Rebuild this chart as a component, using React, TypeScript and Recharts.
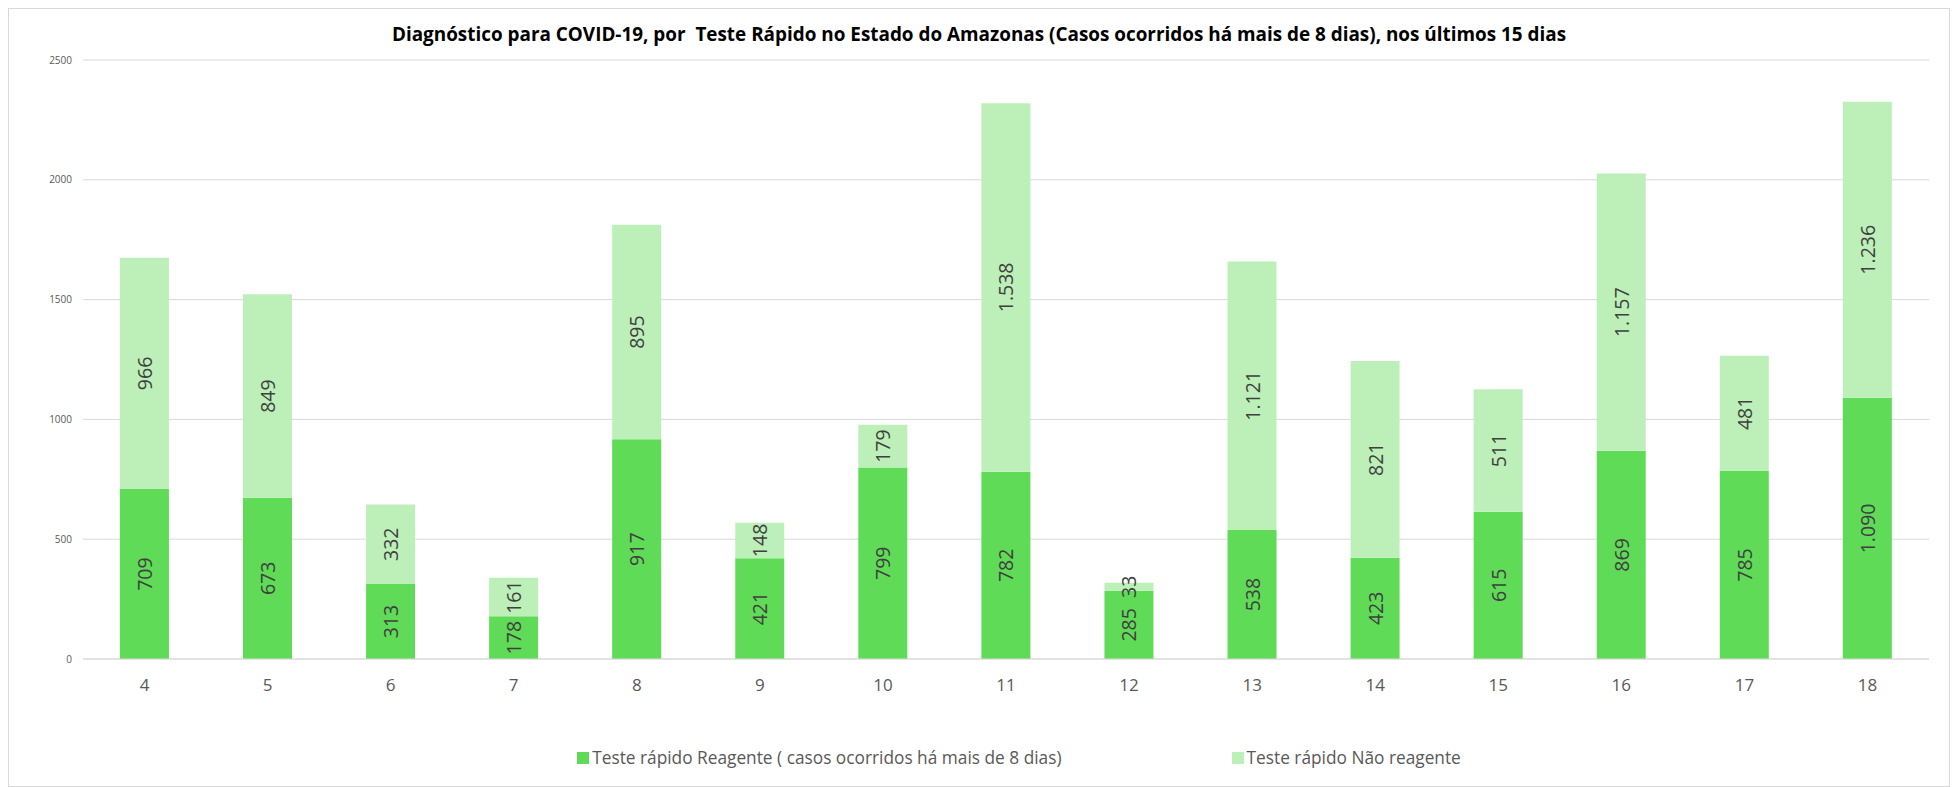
import { BarChart, Bar, XAxis, YAxis, CartesianGrid, Legend, LabelList } from 'recharts';

const days = ['4', '5', '6', '7', '8', '9', '10', '11', '12', '13', '14', '15', '16', '17', '18'];
const reagente = [709, 673, 313, 178, 917, 421, 799, 782, 285, 538, 423, 615, 869, 785, 1090];
const naoReagente = [966, 849, 332, 161, 895, 148, 179, 1538, 33, 1121, 821, 511, 1157, 481, 1236];
const yTicks = [0, 500, 1000, 1500, 2000, 2500];

const title =
  'Diagnóstico para COVID-19, por  Teste Rápido no Estado do Amazonas (Casos ocorridos há mais de 8 dias), nos últimos 15 dias';
const nameReagente = 'Teste rápido Reagente ( casos ocorridos há mais de 8 dias)';
const nameNao = 'Teste rápido Não reagente';

const DARK = '#5fdb57';
const LIGHT = '#bdf0b9';
const FONT = '"Open Sans", sans-serif';

const data = days.map((d, i) => ({ day: d, reagente: reagente[i], nao: naoReagente[i] }));

// 1538 -> "1.538"
function fmt(v: number): string {
  return String(v).replace(/\B(?=(\d{3})+(?!\d))/g, '.');
}

function VerticalLabel(props: any) {
  const { x, y, width, height, value } = props;
  const cx = Number(x) + Number(width) / 2;
  const cy = Number(y) + Number(height) / 2;
  return (
    <text
      x={cx}
      y={cy}
      transform={`rotate(-90 ${cx} ${cy})`}
      textAnchor="middle"
      dominantBaseline="central"
      fill="#404040"
      fontSize={19.5}
      fontFamily={FONT}
    >
      {fmt(Number(value))}
    </text>
  );
}

function LegendContent() {
  const items = [
    { label: nameReagente, color: DARK },
    { label: nameNao, color: LIGHT },
  ];
  return (
    <div style={{ display: 'flex', justifyContent: 'center', gap: 170, paddingLeft: 100 }}>
      {items.map((it) => (
        <div key={it.label} style={{ display: 'flex', alignItems: 'center' }}>
          <span style={{ width: 12, height: 12, background: it.color, marginRight: 3, display: 'inline-block' }} />
          <span style={{ fontFamily: FONT, fontSize: 17.3, color: '#595959' }}>{it.label}</span>
        </div>
      ))}
    </div>
  );
}

export default function App() {
  return (
    <div
      style={{
        position: 'relative',
        width: 1940,
        height: 777,
        border: '1px solid #d9d9d9',
        background: '#fff',
      }}
    >
      <div
        style={{
          position: 'absolute',
          top: 12,
          left: 0,
          width: '100%',
          textAlign: 'center',
          fontFamily: FONT,
          fontWeight: 700,
          fontSize: 18.9,
          lineHeight: '26px',
          color: '#000',
          whiteSpace: 'pre',
        }}
      >
        {title}
      </div>
      <BarChart
        width={1940}
        height={777}
        data={data}
        margin={{ top: 51, right: 20, left: 0, bottom: 57 }}
        barCategoryGap="30%"
      >
        <CartesianGrid vertical={false} stroke="#d9d9d9" />
        <XAxis
          dataKey="day"
          height={40}
          tickLine={false}
          tickSize={0}
          tickMargin={20}
          axisLine={{ stroke: '#d9d9d9' }}
          tick={{ fontSize: 17, fill: '#595959', fontFamily: FONT }}
        />
        <YAxis
          width={74}
          domain={[0, 2500]}
          ticks={yTicks}
          axisLine={false}
          tickLine={false}
          tickSize={0}
          tickMargin={11}
          tick={{ fontSize: 10, fill: '#595959', fontFamily: FONT }}
        />
        <Legend
          verticalAlign="bottom"
          height={30}
          content={<LegendContent />}
          wrapperStyle={{ bottom: 10 }}
        />
        <Bar dataKey="reagente" name={nameReagente} stackId="a" fill={DARK} isAnimationActive={false}>
          <LabelList dataKey="reagente" content={<VerticalLabel />} />
        </Bar>
        <Bar dataKey="nao" name={nameNao} stackId="a" fill={LIGHT} isAnimationActive={false}>
          <LabelList dataKey="nao" content={<VerticalLabel />} />
        </Bar>
      </BarChart>
    </div>
  );
}
